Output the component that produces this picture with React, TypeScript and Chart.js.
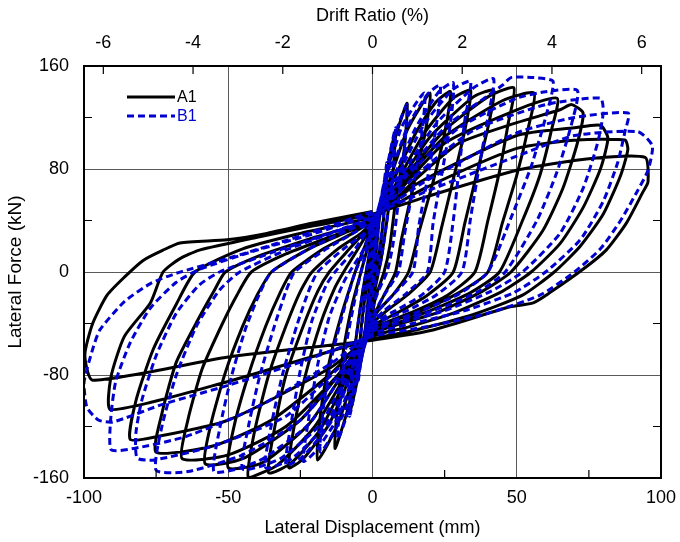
import React, { useEffect, useRef } from 'react';
import { Chart, registerables } from 'chart.js';

Chart.register(...registerables);

const FONT = '"Liberation Sans", Arial, sans-serif';

const X_MAJOR = [-100, -50, 0, 50, 100];
const X_MINOR = [-75, -25, 25, 75];
const Y_MAJOR = [-160, -80, 0, 80, 160];
const Y_MINOR = [-120, -40, 40, 120];
const DRIFT_TICKS = [-6, -4, -2, 0, 2, 4, 6];
const MM_PER_DRIFT_PERCENT = 15.55;
const SERIES_NAMES = ['A1', 'B1'];

// A1: lateral displacement (mm), lateral force (kN)
const A1_POINTS: [number, number][] = [
  [0, 0],
  // cycle 1
  [2.5, 45], [1, 10], [0, -5], [-2.5, -45], [-1, -10], [0, 8],
  // cycle 2
  [3, 50], [5, 80], [4, 45], [2, 10], [0, -15], [-3, -50], [-5, -80], [-4, -45], [-2, -10], [0, 18],
  // cycle 3
  [3, 55], [6, 90], [8, 110], [7, 75], [5, 40], [3, 10], [1, -12], [0, -25], [-3, -58], [-6, -92], [-8, -110],
  [-7, -75], [-5, -40], [-3, -10], [0, 26],
  // cycle 4
  [4, 65], [8, 105], [12, 131], [11, 95], [8, 55], [6, 20], [4, 0], [1, -20], [0, -32], [-4, -68], [-9, -110], [-13, -137],
  [-12, -100], [-10, -60], [-7, -25], [-4, 0], [0, 32],
  // cycle 5
  [5, 65], [12, 110], [20, 139], [18, 105], [14, 65], [10, 25], [8, 0], [4, -18], [0, -36], [-5, -70], [-12, -118], [-19, -146],
  [-18, -110], [-15, -70], [-11, -35], [-6, 0], [-3, 18], [0, 35],
  // cycle 6
  [6, 65], [15, 108], [22, 132], [27, 140], [25, 108], [21, 70], [16, 30], [12.5, 0], [7, -18], [2, -30], [0, -38],
  [-6, -72], [-15, -118], [-24, -145], [-29, -152], [-27, -118], [-23, -78], [-18, -40], [-13, -12], [-10, 0], [-5, 18], [0, 37],
  // cycle 7
  [8, 68], [18, 108], [28, 135], [34, 141], [32, 110], [28, 72], [24, 35], [20, 0], [12, -18], [5, -30], [0, -40],
  [-8, -78], [-18, -122], [-28, -148], [-36, -156], [-34, -122], [-30, -80], [-24, -42], [-19, -15], [-15, 0], [-8, 18], [0, 38],
  // cycle 8
  [8, 65], [20, 105], [35, 136], [42, 141], [40, 112], [36, 75], [32, 38], [28, 0], [19, -18], [10, -30], [4, -37], [0, -42],
  [-8, -75], [-20, -120], [-33, -150], [-43, -160], [-41, -125], [-36, -80], [-30, -42], [-25, -15], [-21, 0], [-12, 18], [-4, 30], [0, 39],
  // cycle 9
  [10, 70], [25, 110], [40, 136], [49, 143], [47, 115], [44, 78], [40, 40], [35.5, 0], [26, -18], [15, -30], [6, -38], [0, -44],
  [-10, -78], [-22, -118], [-38, -148], [-50, -152], [-48, -120], [-43, -80], [-37, -42], [-32, -16], [-28, 0], [-17, 18], [-7, 30], [0, 40],
  // cycle 10
  [10, 68], [25, 105], [45, 133], [56, 139], [54, 112], [50, 75], [45, 38], [40, 0], [30, -16], [17, -30], [7, -38], [0, -45],
  [-10, -75], [-25, -115], [-45, -145], [-58, -149], [-56, -118], [-51, -78], [-45, -42], [-40, -18], [-35, 0], [-22, 18], [-10, 30], [0, 40],
  // cycle 11
  [10, 65], [25, 100], [50, 126], [64, 135], [62, 110], [58, 75], [52, 40], [44, 0], [34, -16], [20, -30], [8, -40], [0, -46],
  [-12, -80], [-30, -120], [-50, -142], [-66, -145], [-64, -115], [-59, -75], [-52, -40], [-47, -18], [-42, 0], [-30, 14], [-15, 27], [0, 40],
  // cycle 12
  [15, 72], [30, 100], [50, 116], [65, 126], [69, 130], [73, 123.5], [71, 100], [66, 65], [59, 32], [48, 0], [38, -15], [22, -32], [10, -40], [0, -48],
  [-15, -80], [-35, -115], [-55, -135], [-75, -140], [-73, -110], [-68, -70], [-60, -35], [-55, -15], [-51, 0], [-40, 12], [-20, 27], [0, 41],
  // cycle 13
  [15, 68], [50, 106], [70, 112], [79, 114], [81.6, 104], [79, 80], [73, 50], [65, 22], [55, 0], [45, -15], [28, -32], [12, -43], [0, -50],
  [-15, -75], [-50, -115], [-75, -128], [-84, -130], [-82, -100], [-76, -60], [-68, -25], [-61.5, 0], [-45, 18], [-25, 30], [0, 43],
  // cycle 14
  [18, 65], [50, 96], [71, 102.5], [87.5, 102.5], [88.5, 95], [86, 75], [80, 45], [72, 20], [63, 0], [52, -18], [35, -33], [15, -45], [0, -52],
  [-50, -85], [-90.7, -107], [-90.7, -82], [-86, -50], [-77, -24], [-72.6, 0], [-67, 10], [-60, 17], [-40, 27], [-20, 36], [0, 45],
  // cycle 15
  [18, 58], [50, 79], [75, 88], [94.5, 89], [95.5, 70], [93.7, 62], [88, 38], [81, 17], [72.6, 1.5], [61.5, -16], [55.7, -24], [47.7, -27], [21, -45], [0, -53],
  [-50, -66], [-97, -84], [-99.7, -64.5], [-97, -40], [-92, -18], [-86, -4], [-79.5, 9], [-72.6, 17], [-66.7, 22.5], [-50.4, 25], [-36.6, 30], [-20.6, 38], [0, 47],
];

// B1: lateral displacement (mm), lateral force (kN)
const B1_POINTS: [number, number][] = [
  [0, 0],
  // cycle 1
  [2.5, 50], [1, 12], [0, -3], [-2.5, -50], [-1, -12], [0, 8],
  // cycle 2
  [3, 52], [5, 85], [4, 48], [2, 10], [0, -10], [-3, -52], [-5, -85], [-4, -48], [-2, -12], [0, 18],
  // cycle 3
  [3, 58], [6, 92], [8, 112], [7, 75], [5, 40], [3, 10], [1, -8], [0, -20], [-3, -58], [-6, -92], [-8, -112],
  [-7, -75], [-5, -40], [-3, -10], [0, 27],
  // cycle 4
  [4, 68], [8, 108], [12, 130], [11, 95], [9, 55], [7, 20], [5, 0], [2, -15], [0, -28], [-4, -68], [-8, -105], [-12, -130],
  [-11, -95], [-9, -55], [-6, -20], [-4, 0], [0, 33],
  // cycle 5
  [4, 65], [10, 112], [18, 139], [17, 105], [14, 65], [11, 28], [9, 0], [4, -18], [0, -35], [-4, -68], [-10, -110], [-18, -140],
  [-17, -105], [-14, -65], [-10, -30], [-6, 0], [-2, 20], [0, 36],
  // cycle 6
  [5, 68], [12, 112], [19, 138], [23.5, 145], [22, 112], [19, 72], [16, 35], [14, 0], [7, -18], [2, -30], [0, -38],
  [-5, -70], [-12, -113], [-20, -140], [-24, -147], [-22, -112], [-19, -72], [-15, -35], [-10, -8], [-8, 0], [-3, 18], [0, 38],
  // cycle 7
  [7, 72], [15, 112], [23, 140], [28, 147], [27, 115], [24, 76], [21, 38], [19, 0], [11, -18], [4, -30], [0, -40],
  [-6, -72], [-14, -115], [-24, -143], [-30, -150], [-28, -115], [-25, -76], [-21, -38], [-16, -10], [-13, 0], [-6, 18], [0, 39],
  // cycle 8
  [8, 72], [18, 115], [28, 142], [34, 148], [32, 118], [30, 80], [28, 40], [25, 0], [17, -18], [8, -30], [2, -37], [0, -41],
  [-7, -75], [-16, -118], [-28, -145], [-37, -152], [-35, -118], [-31, -78], [-26, -40], [-22, -14], [-19, 0], [-10, 18], [-3, 30], [0, 40],
  // cycle 9
  [10, 75], [22, 115], [35, 143], [42, 150], [40, 120], [37, 82], [34, 42], [31, 0], [22, -18], [12, -30], [4, -37], [0, -42],
  [-8, -75], [-18, -118], [-32, -145], [-45, -153], [-43, -120], [-39, -80], [-34, -42], [-30, -15], [-27, 0], [-16, 18], [-6, 31], [0, 41],
  // cycle 10
  [10, 72], [25, 112], [45, 145], [48, 151], [56, 151], [62.6, 148], [60, 120], [55, 82], [48, 42], [40, 0], [30, -17], [17, -30], [7, -38], [0, -44],
  [-10, -78], [-22, -118], [-38, -145], [-47, -153], [-55, -155], [-53, -122], [-49, -82], [-44, -44], [-39, -16], [-35, 0], [-22, 18], [-9, 32], [0, 41],
  // cycle 11
  [12, 75], [30, 112], [50, 135], [60, 140], [71, 141], [69, 115], [64, 78], [57, 40], [46, 0], [36, -16], [21, -30], [8, -38], [0, -45],
  [-10, -75], [-25, -115], [-45, -142], [-64, -155], [-75, -154], [-73, -120], [-68, -80], [-61, -42], [-53, -14], [-46, 0], [-30, 17], [-12, 32], [0, 42],
  // cycle 12
  [15, 75], [35, 110], [60, 130], [79, 135], [80, 124], [78, 100], [73, 65], [65, 30], [52, 0], [41, -15], [25, -30], [10, -39], [0, -46],
  [-12, -75], [-30, -112], [-55, -135], [-75.7, -146], [-81.6, -144.5], [-82, -125], [-80, -100], [-75, -65], [-68, -32], [-60, -10], [-53, 0], [-35, 15], [-15, 30], [0, 43],
  // cycle 13
  [18, 70], [50, 108], [70, 120], [88.6, 123.5], [87.5, 109], [85, 85], [80, 55], [72, 25], [60, 0], [49, -16], [32, -30], [14, -40], [0, -48],
  [-15, -72], [-40, -105], [-65, -128], [-82.6, -137], [-90.6, -138], [-90.7, -113], [-89, -85], [-84, -55], [-77, -28], [-68, -8], [-60, 2], [-40, 17], [-20, 30], [0, 45],
  // cycle 14
  [18, 62], [50, 90], [70, 106], [92, 109], [97, 98], [95.5, 79], [91.6, 62], [86, 40], [79, 18], [70, 0], [58, -18], [40, -32], [20, -42], [0, -50],
  [-25, -70], [-50, -88], [-73, -103], [-90, -116.5], [-95, -115], [-99, -105], [-100, -86], [-97, -60], [-94.5, -45], [-86, -23], [-77, -9], [-68, -1], [-48, 12], [-25, 28], [0, 47],
];

const A1_COLOR = '#000000';
const B1_COLOR = '#0000d0';

const framePlugin = {
  id: 'frameAndLegend',
  afterDatasetsDraw(chart: any) {
    const { ctx, chartArea: a, scales } = chart;
    ctx.save();
    ctx.strokeStyle = '#000';
    ctx.lineWidth = 1.2;
    const tl = 8;
    ctx.beginPath();
    for (const v of X_MINOR) {
      const px = scales.x.getPixelForValue(v);
      ctx.moveTo(px, a.bottom);
      ctx.lineTo(px, a.bottom - tl);
    }
    for (const v of DRIFT_TICKS) {
      const px = scales.x2.getPixelForValue(v);
      ctx.moveTo(px, a.top);
      ctx.lineTo(px, a.top + tl);
    }
    for (const v of Y_MINOR) {
      const py = scales.y.getPixelForValue(v);
      ctx.moveTo(a.left, py);
      ctx.lineTo(a.left + tl, py);
      ctx.moveTo(a.right, py);
      ctx.lineTo(a.right - tl, py);
    }
    ctx.stroke();
    ctx.lineWidth = 2;
    ctx.strokeRect(a.left, a.top, a.right - a.left, a.bottom - a.top);

    // legend
    const lx = a.left + 43;
    const ly = a.top + 31;
    const colors = [A1_COLOR, B1_COLOR];
    ctx.font = '16px ' + FONT;
    ctx.textBaseline = 'middle';
    SERIES_NAMES.forEach((name, i) => {
      const y = ly + i * 19;
      ctx.strokeStyle = colors[i];
      ctx.lineWidth = 3;
      ctx.setLineDash(i === 0 ? [] : [7, 4]);
      ctx.beginPath();
      ctx.moveTo(lx, y);
      ctx.lineTo(lx + 48, y);
      ctx.stroke();
      ctx.setLineDash([]);
      ctx.fillStyle = colors[i];
      ctx.fillText(name, lx + 50, y + 1);
    });
    ctx.restore();
  },
};

export default function App() {
  const ref = useRef<HTMLCanvasElement | null>(null);

  useEffect(() => {
    if (!ref.current) return;
    const gridColor = (edge: number) => (c: any) =>
      Math.abs(c.tick.value) === edge ? 'rgba(0,0,0,0)' : '#5a5a5a';
    const tickFont = { family: FONT, size: 18 };
    const fitHorizontal = (h: number) => (s: any) => {
      s.height = h;
      s.paddingLeft = 0;
      s.paddingRight = 0;
    };
    const chart = new Chart(ref.current, {
      type: 'scatter',
      data: {
        datasets: [
          {
            label: SERIES_NAMES[0],
            data: A1_POINTS.map(([x, y]) => ({ x, y })),
            showLine: true,
            borderColor: A1_COLOR,
            borderWidth: 3,
            pointRadius: 0,
            tension: 0.2,
            order: 1,
          },
          {
            label: SERIES_NAMES[1],
            data: B1_POINTS.map(([x, y]) => ({ x, y })),
            showLine: true,
            borderColor: B1_COLOR,
            borderWidth: 3,
            borderDash: [7, 4],
            pointRadius: 0,
            tension: 0.2,
            order: 0,
          },
        ],
      },
      options: {
        responsive: false,
        animation: false,
        layout: { padding: { left: 0, right: 19, top: 0, bottom: 0 } },
        plugins: { legend: { display: false }, tooltip: { enabled: false } },
        scales: {
          x: {
            type: 'linear',
            position: 'bottom',
            min: -100,
            max: 100,
            afterBuildTicks: (s: any) => { s.ticks = X_MAJOR.map((value) => ({ value })); },
            afterFit: fitHorizontal(64),
            ticks: { color: '#000', font: tickFont, padding: 9, maxRotation: 0 },
            grid: { color: gridColor(100), lineWidth: 1, drawTicks: false },
            border: { display: false },
            title: { display: true, text: 'Lateral Displacement (mm)', color: '#000', font: { family: FONT, size: 18 }, padding: { top: 4, bottom: 3 } },
          },
          x2: {
            type: 'linear',
            position: 'top',
            min: -100 / MM_PER_DRIFT_PERCENT,
            max: 100 / MM_PER_DRIFT_PERCENT,
            afterBuildTicks: (s: any) => { s.ticks = DRIFT_TICKS.map((value) => ({ value })); },
            afterFit: fitHorizontal(66),
            ticks: { color: '#000', font: tickFont, padding: 12, maxRotation: 0 },
            grid: { display: false, drawTicks: false },
            border: { display: false },
            title: { display: true, text: 'Drift Ratio (%)', color: '#000', font: { family: FONT, size: 18 }, padding: { top: 5, bottom: 4 } },
          },
          y: {
            type: 'linear',
            position: 'left',
            min: -160,
            max: 160,
            afterBuildTicks: (s: any) => { s.ticks = Y_MAJOR.map((value) => ({ value })); },
            afterFit: (s: any) => { s.width = 84; },
            ticks: { color: '#000', font: tickFont, padding: 15 },
            grid: { color: gridColor(160), lineWidth: 1, drawTicks: false },
            border: { display: false },
            title: { display: true, text: 'Lateral Force (kN)', color: '#000', font: { family: FONT, size: 19 }, padding: { top: 4, bottom: 4 } },
          },
        },
      },
      plugins: [framePlugin],
    } as any);
    return () => chart.destroy();
  }, []);

  return (
    <div style={{ position: 'fixed', left: 0, top: 0, width: 680, height: 542, background: '#fff' }}>
      <canvas ref={ref} width={680} height={542} style={{ display: 'block', width: 680, height: 542 }} />
    </div>
  );
}
